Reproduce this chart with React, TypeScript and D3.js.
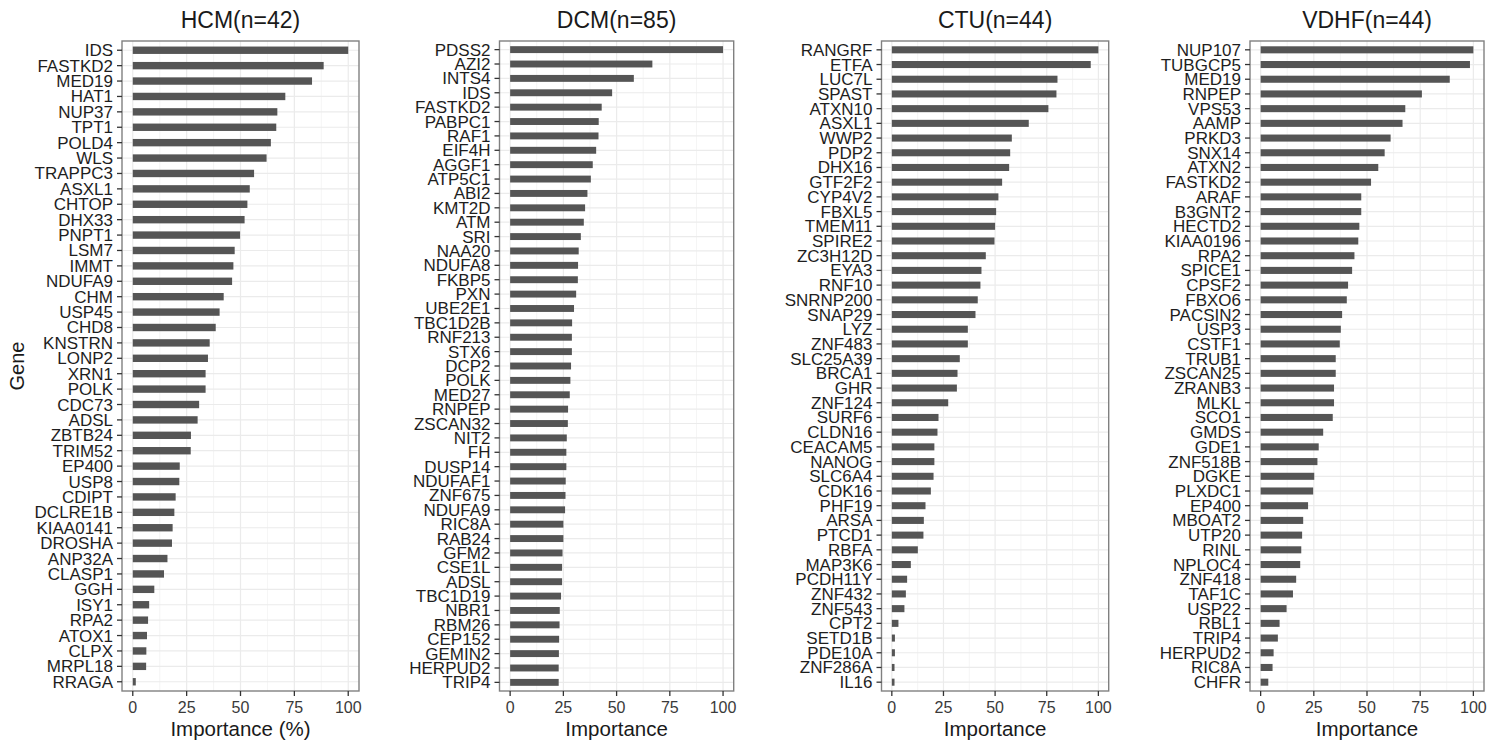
import React from "react";
import * as d3 from "d3";

const hcmGenes = ["IDS","FASTKD2","MED19","HAT1","NUP37","TPT1","POLD4","WLS","TRAPPC3","ASXL1","CHTOP","DHX33","PNPT1","LSM7","IMMT","NDUFA9","CHM","USP45","CHD8","KNSTRN","LONP2","XRN1","POLK","CDC73","ADSL","ZBTB24","TRIM52","EP400","USP8","CDIPT","DCLRE1B","KIAA0141","DROSHA","ANP32A","CLASP1","GGH","ISY1","RPA2","ATOX1","CLPX","MRPL18","RRAGA"];
const hcmValues = [100,88.6,83.2,70.8,67.1,66.6,64.1,62.1,56.3,54.3,53.2,51.9,49.8,47.3,46.7,46.1,42.2,40.3,38.5,35.7,34.9,33.8,33.8,30.8,30.1,27.0,26.9,21.8,21.6,19.9,19.3,18.5,18.2,16.1,14.5,10.0,7.6,7.1,6.6,6.3,6.2,1.4];

const dcmGenes = ["PDSS2","AZI2","INTS4","IDS","FASTKD2","PABPC1","RAF1","EIF4H","AGGF1","ATP5C1","ABI2","KMT2D","ATM","SRI","NAA20","NDUFA8","FKBP5","PXN","UBE2E1","TBC1D2B","RNF213","STX6","DCP2","POLK","MED27","RNPEP","ZSCAN32","NIT2","FH","DUSP14","NDUFAF1","ZNF675","NDUFA9","RIC8A","RAB24","GFM2","CSE1L","ADSL","TBC1D19","NBR1","RBM26","CEP152","GEMIN2","HERPUD2","TRIP4"];
const dcmValues = [100,66.8,58.1,47.9,43.0,41.6,41.5,40.4,38.8,37.9,36.3,35.2,34.6,33.2,32.2,31.9,31.8,31.0,30.0,29.1,29.0,29.0,28.6,28.3,28.0,27.2,27.1,26.6,26.4,26.4,26.1,26.0,25.8,25.0,25.0,24.6,24.4,24.4,23.9,23.3,23.2,23.0,22.9,22.8,22.8];

const ctuGenes = ["RANGRF","ETFA","LUC7L","SPAST","ATXN10","ASXL1","WWP2","PDP2","DHX16","GTF2F2","CYP4V2","FBXL5","TMEM11","SPIRE2","ZC3H12D","EYA3","RNF10","SNRNP200","SNAP29","LYZ","ZNF483","SLC25A39","BRCA1","GHR","ZNF124","SURF6","CLDN16","CEACAM5","NANOG","SLC6A4","CDK16","PHF19","ARSA","PTCD1","RBFA","MAP3K6","PCDH11Y","ZNF432","ZNF543","CPT2","SETD1B","PDE10A","ZNF286A","IL16"];
const ctuValues = [100,96.3,80.2,79.7,75.8,66.3,58.1,57.3,56.8,53.4,51.6,50.5,50.0,49.7,45.5,43.4,42.9,41.6,40.5,36.8,36.8,32.9,31.8,31.5,27.3,22.6,22.1,20.6,20.6,20.2,18.9,16.3,15.5,15.3,12.6,9.2,7.4,6.8,6.1,3.2,1.5,1.5,1.3,1.3];

const vdhfGenes = ["NUP107","TUBGCP5","MED19","RNPEP","VPS53","AAMP","PRKD3","SNX14","ATXN2","FASTKD2","ARAF","B3GNT2","HECTD2","KIAA0196","RPA2","SPICE1","CPSF2","FBXO6","PACSIN2","USP3","CSTF1","TRUB1","ZSCAN25","ZRANB3","MLKL","SCO1","GMDS","GDE1","ZNF518B","DGKE","PLXDC1","EP400","MBOAT2","UTP20","RINL","NPLOC4","ZNF418","TAF1C","USP22","RBL1","TRIP4","HERPUD2","RIC8A","CHFR"];
const vdhfValues = [100,98.4,88.9,75.8,68.0,66.7,61.1,58.3,55.3,51.9,47.3,47.3,46.4,45.9,44.1,43.0,41.1,40.5,38.3,37.7,37.2,35.3,35.3,34.5,34.5,33.9,29.4,27.3,26.7,25.2,24.7,22.3,20.0,19.5,19.1,18.6,16.7,15.2,12.2,8.9,8.1,6.1,5.6,3.6];

const xTicks = [0, 25, 50, 75, 100];
const xMinor = [12.5, 37.5, 62.5, 87.5];

const panels = [
  { title: "HCM(n=42)", xlabel: "Importance (%)", genes: hcmGenes, values: hcmValues, left: 122, right: 359 },
  { title: "DCM(n=85)", xlabel: "Importance", genes: dcmGenes, values: dcmValues, left: 499.5, right: 733.7 },
  { title: "CTU(n=44)", xlabel: "Importance", genes: ctuGenes, values: ctuValues, left: 881.5, right: 1108.7 },
  { title: "VDHF(n=44)", xlabel: "Importance", genes: vdhfGenes, values: vdhfValues, left: 1250, right: 1484 },
];

const TOP = 41;
const BOTTOM = 691;
const FONT = "'Liberation Sans', Arial, Helvetica, sans-serif";

function Panel({ p }: { p: typeof panels[number] }) {
  const x = d3.scaleLinear().domain([-5, 105]).range([p.left, p.right]);
  const y = d3.scalePoint<string>().domain(p.genes).range([TOP, BOTTOM]).padding(0.6);
  const step = y.step();
  const barH = step * 0.48;
  const cx = (p.left + p.right) / 2;
  return (
    <g>
      <rect x={p.left} y={TOP} width={p.right - p.left} height={BOTTOM - TOP} fill="#ffffff" />
      {xMinor.map((t) => (
        <line key={"mn" + t} x1={x(t)} x2={x(t)} y1={TOP} y2={BOTTOM} stroke="#f2f2f2" strokeWidth={0.8} />
      ))}
      {xTicks.map((t) => (
        <line key={"mj" + t} x1={x(t)} x2={x(t)} y1={TOP} y2={BOTTOM} stroke="#ebebeb" strokeWidth={1.2} />
      ))}
      {p.genes.map((g) => (
        <line key={"hg" + g} x1={p.left} x2={p.right} y1={y(g)} y2={y(g)} stroke="#ebebeb" strokeWidth={1.2} />
      ))}
      {p.genes.map((g, i) => (
        <rect key={"b" + g} x={x(0)} y={(y(g) as number) - barH / 2} width={x(p.values[i]) - x(0)} height={barH} fill="#555555" />
      ))}
      <rect x={p.left} y={TOP} width={p.right - p.left} height={BOTTOM - TOP} fill="none" stroke="#808080" strokeWidth={1.4} />
      {p.genes.map((g) => (
        <g key={"yt" + g}>
          <line x1={p.left - 5} x2={p.left} y1={y(g)} y2={y(g)} stroke="#333333" strokeWidth={1.3} />
          <text x={p.left - 9} y={(y(g) as number) + 6} textAnchor="end" fontSize={17} fill="#1e1e1e" fontFamily={FONT}>{g}</text>
        </g>
      ))}
      {xTicks.map((t) => (
        <g key={"xt" + t}>
          <line x1={x(t)} x2={x(t)} y1={BOTTOM} y2={BOTTOM + 5} stroke="#333333" strokeWidth={1.3} />
          <text x={x(t)} y={713} textAnchor="middle" fontSize={16} fill="#3a3a3a" fontFamily={FONT}>{t}</text>
        </g>
      ))}
      <text x={cx} y={736} textAnchor="middle" fontSize={20.5} fill="#1a1a1a" fontFamily={FONT}>{p.xlabel}</text>
      <text x={cx} y={28} textAnchor="middle" fontSize={23} fill="#1a1a1a" fontFamily={FONT}>{p.title}</text>
    </g>
  );
}

export default function App() {
  return (
    <svg width={1504} height={743} style={{ position: "absolute", left: 0, top: 0, background: "#ffffff" }}>
      <rect x={0} y={0} width={1504} height={743} fill="#ffffff" />
      {panels.map((p) => (
        <Panel key={p.title} p={p} />
      ))}
      <text transform={`translate(24, ${(TOP + BOTTOM) / 2}) rotate(-90)`} textAnchor="middle" fontSize={20} fill="#1a1a1a" fontFamily={FONT}>Gene</text>
    </svg>
  );
}
